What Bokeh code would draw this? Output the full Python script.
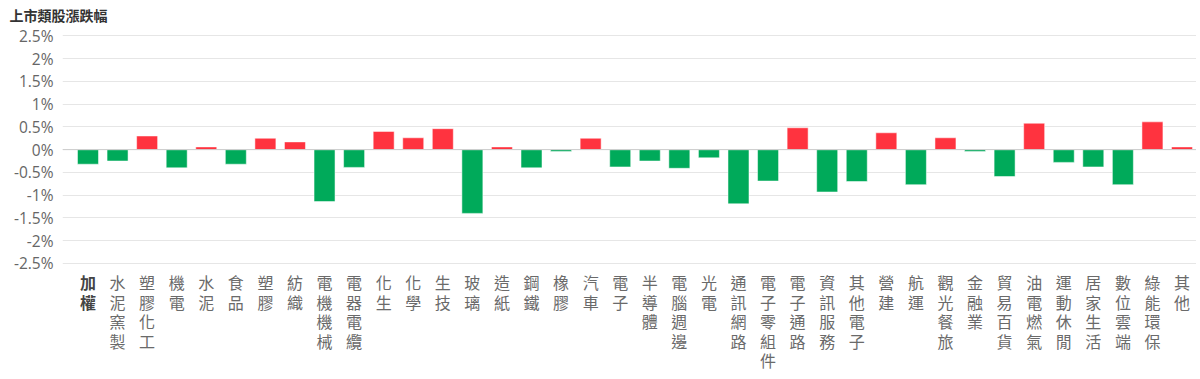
from bokeh.plotting import figure
from bokeh.models import ColumnDataSource, Range1d, FixedTicker, CustomJSTickFormatter, Span
from bokeh.embed import file_html
from bokeh.resources import INLINE
from bokeh.core.properties import value

title_text = "上市類股漲跌幅"
categories = ["加權", "水泥窯製", "塑膠化工", "機電", "水泥", "食品", "塑膠", "紡織",
              "電機機械", "電器電纜", "化生", "化學", "生技", "玻璃", "造紙", "鋼鐵",
              "橡膠", "汽車", "電子", "半導體", "電腦週邊", "光電", "通訊網路", "電子零組件",
              "電子通路", "資訊服務", "其他電子", "營建", "航運", "觀光餐旅", "金融業",
              "貿易百貨", "油電燃氣", "運動休閒", "居家生活", "數位雲端", "綠能環保", "其他"]
changes = [-0.32, -0.25, 0.30, -0.40, 0.06, -0.32, 0.25, 0.17,
           -1.14, -0.39, 0.40, 0.26, 0.46, -1.40, 0.06, -0.40,
           -0.04, 0.25, -0.38, -0.25, -0.41, -0.18, -1.19, -0.69,
           0.48, -0.93, -0.70, 0.37, -0.77, 0.26, -0.04,
           -0.59, 0.58, -0.28, -0.38, -0.77, 0.61, 0.06]
y_ticks = [-2.5, -2, -1.5, -1, -0.5, 0, 0.5, 1, 1.5, 2, 2.5]

RED = "#ff333f"
GREEN = "#00aa5a"

xs = list(range(len(categories)))
bar_src = ColumnDataSource(dict(
    x=xs,
    top=changes,
    color=[RED if v >= 0 else GREEN for v in changes],
))

# vertical (one character per row) category labels
LABEL_TOP = -2.916      # data-y of first character centre
LABEL_STEP = 0.426      # data-y distance between stacked characters
cx, cy, ct, cs, cc = [], [], [], [], []
for i, cat in enumerate(categories):
    for r, ch in enumerate(cat):
        cx.append(i)
        cy.append(LABEL_TOP - r * LABEL_STEP)
        ct.append(ch)
        cs.append("bold" if i == 0 else "normal")
        cc.append("#444444" if i == 0 else "#6a6a6a")
lab_src = ColumnDataSource(dict(x=cx, y=cy, text=ct, style=cs, tcolor=cc))

W, H = 1196, 374
p = figure(width=W, height=H, output_backend="svg", toolbar_location=None,
           x_range=Range1d(-0.862, 37.49), y_range=Range1d(-4.938, 2.704),
           x_axis_location=None, min_border_left=62, min_border_right=0,
           min_border_top=26, min_border_bottom=0)
p.outline_line_color = None
p.background_fill_color = "white"
p.border_fill_color = "white"

p.title.text = title_text
p.title.text_font = "Noto Sans CJK TC"
p.title.text_font_size = "14px"
p.title.text_font_style = "bold"
p.title.text_color = "#333333"
p.title.text_line_height = 0.75
p.title.align = "left"
p.title.vertical_align = "top"
p.title.offset = -53
p.title.standoff = 0

p.xgrid.visible = False
p.ygrid.grid_line_color = "#e6e6e6"
p.ygrid.grid_line_width = 1

p.yaxis.ticker = FixedTicker(ticks=y_ticks)
p.yaxis.formatter = CustomJSTickFormatter(code="return tick + '%';")
p.yaxis.axis_line_color = None
p.yaxis.major_tick_line_color = None
p.yaxis.minor_tick_line_color = None
p.yaxis.major_tick_out = 0
p.yaxis.major_tick_in = 0
p.yaxis.major_label_standoff = 9
p.yaxis.major_label_text_font = "Open Sans"
p.yaxis.major_label_text_font_size = "15.5px"
p.yaxis.major_label_text_color = "#666666"

p.vbar(x="x", top="top", bottom=0, width=0.71, source=bar_src,
       fill_color="color", line_color="white", line_alpha=0.5, line_width=1)

p.add_layout(Span(location=0, dimension="width", line_color="#cccccc", line_width=1))

p.text(x="x", y="y", text="text", source=lab_src,
       text_font=value("Noto Sans CJK TC"), text_font_size="16px",
       text_font_style="style", text_color="tcolor",
       text_align="center", text_baseline="middle")

open("out.html", "w").write(file_html(p, INLINE))
